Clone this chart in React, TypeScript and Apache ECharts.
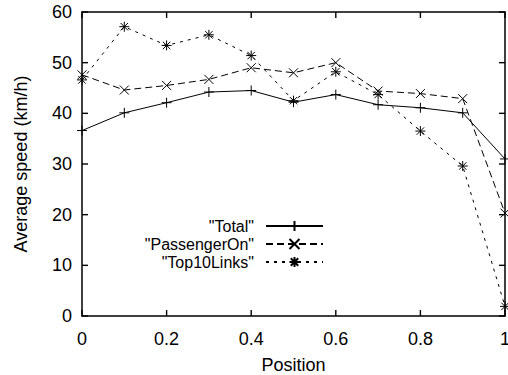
import React, { useEffect, useRef } from "react";
import * as echarts from "echarts";

const positions = [0, 0.1, 0.2, 0.3, 0.4, 0.5, 0.6, 0.7, 0.8, 0.9, 1.0];
const totalValues = [36.6, 40.1, 42.1, 44.2, 44.5, 42.2, 43.7, 41.7, 41.1, 40.1, 31.0];
const passengerOnValues = [47.6, 44.6, 45.5, 46.7, 49.0, 48.0, 50.0, 44.4, 43.9, 42.9, 20.3];
const top10LinksValues = [46.6, 57.1, 53.4, 55.5, 51.4, 42.5, 48.2, 43.7, 36.5, 29.6, 1.9];
const seriesNames = ['"Total"', '"PassengerOn"', '"Top10Links"'];
const xTickValues = [0, 0.2, 0.4, 0.6, 0.8, 1];
const yTickValues = [0, 10, 20, 30, 40, 50, 60];
const xTitle = "Position";
const yTitle = "Average speed (km/h)";

const X_MIN = 0, X_MAX = 1, X_STEP = 0.2;
const Y_MIN = 0, Y_MAX = 60, Y_STEP = 10;

const FONT = "Liberation Sans, Arial, Helvetica, sans-serif";

const plusPath = "path://M5,0L5,10M0,5L10,5";
const crossPath = "path://M0,0L10,10M0,10L10,0";
const starPath = "path://M5,0L5,10M0,5L10,5M1.3,1.3L8.7,8.7M1.3,8.7L8.7,1.3";

const TICK_LEN = 6;
const TICK_W = 1.4;

function pairs(vals: number[]) {
  return positions.map((p, i) => [p, vals[i]]);
}

const mkAxisLine = () => ({ show: true, onZero: false, lineStyle: { color: "#000", width: 1.5 } });

function tickScatter(id: string, data: number[][], size: number[], offset: number[]) {
  return {
    id,
    name: id,
    type: "scatter",
    data,
    symbol: "rect",
    symbolSize: size,
    symbolOffset: offset,
    clip: false,
    silent: true,
    z: 6,
    itemStyle: { color: "#000", opacity: 1 },
    emphasis: { disabled: true },
  };
}

export default function App() {
  const ref = useRef<HTMLDivElement>(null);
  useEffect(() => {
    if (!ref.current) return;
    const chart = echarts.init(ref.current, undefined, { renderer: "svg" });
    const mkSeries = (name: string, vals: number[], symbol: string, lineType: any, size: number) => ({
      name,
      type: "line",
      data: pairs(vals),
      symbol,
      symbolSize: size,
      showSymbol: true,
      showAllSymbol: true,
      lineStyle: { color: "#000", width: 1, type: lineType },
      itemStyle: { color: "#000", borderColor: "#000", borderWidth: 1 },
      emphasis: { disabled: true },
      z: 3,
    });
    const half = TICK_LEN / 2;
    const ticks = [
      tickScatter("tickBottom", xTickValues.map((v) => [v, Y_MIN]), [TICK_W, TICK_LEN], [0, -half]),
      tickScatter("tickTop", xTickValues.map((v) => [v, Y_MAX]), [TICK_W, TICK_LEN], [0, half]),
      tickScatter("tickLeft", yTickValues.map((v) => [X_MIN, v]), [TICK_LEN, TICK_W], [half, 0]),
      tickScatter("tickRight", yTickValues.map((v) => [X_MAX, v]), [TICK_LEN, TICK_W], [-half, 0]),
    ];
    chart.setOption({
      animation: false,
      backgroundColor: "#fff",
      textStyle: { fontFamily: FONT },
      grid: { left: 82, right: 3, top: 12, bottom: 59, containLabel: false, outerBoundsMode: "none" },
      legend: {
        show: true,
        orient: "vertical",
        align: "right",
        right: 184,
        top: 218,
        padding: 0,
        itemGap: 2,
        itemWidth: 57,
        itemHeight: 12.5,
        selectedMode: false,
        data: seriesNames,
        textStyle: { fontFamily: FONT, fontSize: 16, color: "#000", padding: [0, 7, 0, 0] },
      },
      xAxis: [
        {
          type: "value",
          min: X_MIN,
          max: X_MAX,
          interval: X_STEP,
          position: "bottom",
          name: xTitle,
          nameLocation: "middle",
          nameGap: 40,
          nameTextStyle: { fontFamily: FONT, fontSize: 18, color: "#000" },
          axisLine: mkAxisLine(),
          axisTick: { show: false },
          splitLine: { show: false },
          axisLabel: { fontFamily: FONT, fontSize: 18, color: "#000", margin: 14 },
        },
        {
          type: "value",
          min: X_MIN,
          max: X_MAX,
          interval: X_STEP,
          position: "top",
          axisLine: mkAxisLine(),
          axisTick: { show: false },
          splitLine: { show: false },
          axisLabel: { show: false },
        },
      ],
      yAxis: [
        {
          type: "value",
          min: Y_MIN,
          max: Y_MAX,
          interval: Y_STEP,
          position: "left",
          name: yTitle,
          nameLocation: "middle",
          nameGap: 52,
          nameTextStyle: { fontFamily: FONT, fontSize: 18, color: "#000" },
          axisLine: mkAxisLine(),
          axisTick: { show: false },
          splitLine: { show: false },
          axisLabel: { fontFamily: FONT, fontSize: 18, color: "#000", margin: 10 },
        },
        {
          type: "value",
          min: Y_MIN,
          max: Y_MAX,
          interval: Y_STEP,
          position: "right",
          axisLine: mkAxisLine(),
          axisTick: { show: false },
          splitLine: { show: false },
          axisLabel: { show: false },
        },
      ],
      series: [
        mkSeries(seriesNames[0], totalValues, plusPath, "solid", 10),
        mkSeries(seriesNames[1], passengerOnValues, crossPath, [7, 4], 9),
        mkSeries(seriesNames[2], top10LinksValues, starPath, [3, 5], 10),
        ...ticks,
      ],
    });
    return () => chart.dispose();
  }, []);
  return (
    <div
      ref={ref}
      style={{ position: "absolute", left: 0, top: 0, width: 508, height: 375 }}
    />
  );
}
